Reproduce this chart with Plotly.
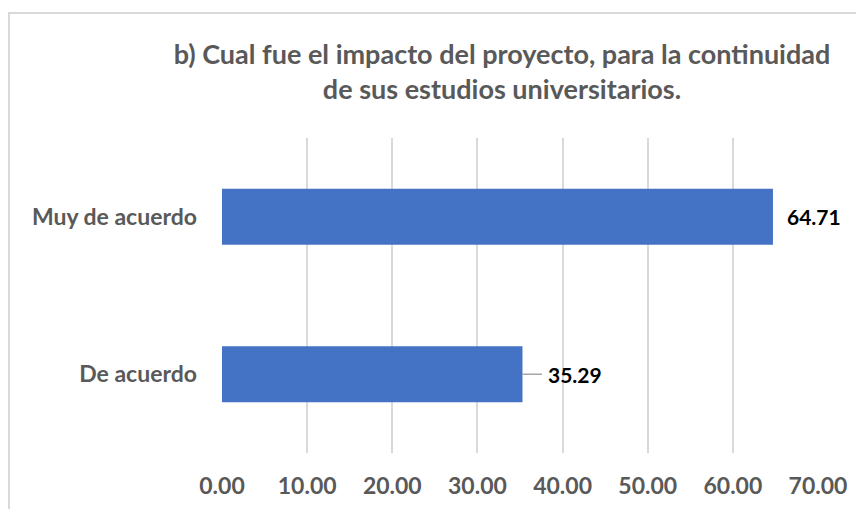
import plotly.graph_objects as go

categories = ["De acuerdo", "Muy de acuerdo"]
values = [35.29, 64.71]
value_labels = ["35.29", "64.71"]
x_ticks = [0, 10, 20, 30, 40, 50, 60, 70]
x_tick_labels = ["0.00", "10.00", "20.00", "30.00", "40.00", "50.00", "60.00", "70.00"]
title_text = "b) Cual fue el impacto del proyecto, para la continuidad<br>de sus estudios universitarios."

FONT = "Lato"
GRAY = "#595959"

fig = go.Figure()
fig.add_trace(go.Bar(
    y=categories, x=values, orientation="h",
    marker=dict(color="#4472C4", line=dict(width=0)),
    width=0.355, hoverinfo="skip",
))

# data labels
fig.add_annotation(x=values[1], y=categories[1], text="<b>" + value_labels[1] + "</b>",
                   showarrow=False, xanchor="left", xshift=12,
                   font=dict(family=FONT, size=21, color="#000000"))
fig.add_annotation(x=values[0], y=categories[0], text="<b>" + value_labels[0] + "</b>",
                   showarrow=True, arrowhead=0, arrowwidth=1.5, arrowcolor="#A6A6A6",
                   ax=53, ay=0, borderpad=6,
                   font=dict(family=FONT, size=21, color="#000000"))

# page has an 8px body margin; figure coords are offset accordingly
W, H = 864, 509
ml, mr, mt, mb = 214, 54, 130, 64
pw, ph = W - ml - mr, H - mt - mb
fx = (1 - ml) / pw
fy_top = (H - mb - 5) / ph
fig.add_shape(type="rect", xref="paper", yref="paper", x0=fx, x1=(W - ml) / pw + 0.1,
              y0=-mb / ph - 0.1, y1=fy_top, line=dict(color="#D9D9D9", width=2),
              fillcolor="rgba(0,0,0,0)", layer="above")

fig.update_layout(
    width=W, height=H,
    margin=dict(l=ml, r=mr, t=mt, b=mb),
    paper_bgcolor="white", plot_bgcolor="white",
    showlegend=False,
    title=dict(text="<b>" + title_text + "</b>", x=494 / W, xanchor="center",
               y=1 - 56 / H, yanchor="top",
               font=dict(family=FONT, size=27, color=GRAY)),
    xaxis=dict(range=[0, 70], tickvals=x_ticks, ticktext=["<b>%s</b>" % t for t in x_tick_labels],
               showgrid=True, gridcolor="#D9D9D9", gridwidth=2, zeroline=False,
               showline=False, ticks="", ticklabelstandoff=17,
               tickfont=dict(family=FONT, size=23, color=GRAY), fixedrange=True),
    yaxis=dict(categoryorder="array", categoryarray=categories,
               ticktext=["<b>%s</b>" % c for c in categories], tickvals=categories,
               showgrid=False, zeroline=False, showline=False, ticks="",
               ticklabelstandoff=24,
               tickfont=dict(family=FONT, size=23, color=GRAY)),
)

fig.write_html("out.html")
